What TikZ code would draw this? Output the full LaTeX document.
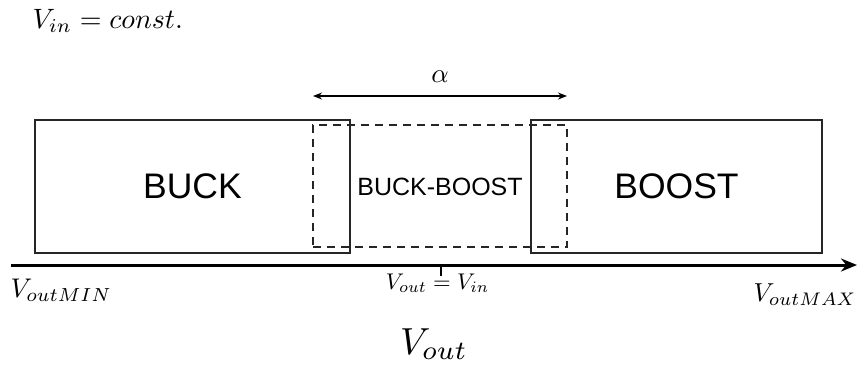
\documentclass[tikz,border=0pt]{standalone}
\usepackage{fontspec}
\newfontfamily\arialfont{Liberation Sans}
\usetikzlibrary{arrows.meta}
\tikzset{
  box/.style={draw=black!85, line width=2pt, inner sep=0pt, font=\arialfont\fontsize{35.5}{40}\selectfont},
  bbox/.style={draw=black!85, line width=2pt, dash pattern=on 8pt off 6pt, inner sep=0pt},
  lbl/.style={inner sep=0pt, anchor=center},
}
\begin{document}
\begin{tikzpicture}[x=1pt,y=-1pt]
\useasboundingbox (0,0) rectangle (858,368);
\node[box, minimum width=315pt, minimum height=133pt] (buck) at (192.5,186.5) {BUCK};
\node[box, minimum width=291pt, minimum height=133pt] (boost) at (676.5,186.5) {BOOST};
\node[bbox, minimum width=254pt, minimum height=122pt] (bb) at (440,186) {};
\node[lbl, font=\arialfont\fontsize{25}{30}\selectfont] (bbt) at (440,187) {BUCK-BOOST};
% alpha arrow
\coordinate (al) at (313,96);
\coordinate (ar) at (567,96);
\draw[line width=1.2pt, {Stealth[length=9pt,width=7pt]}-{Stealth[length=9pt,width=7pt]}] (al) -- (ar);
\node[lbl, scale=2.7] (alpha) at (440,77) {$\alpha$};
% axis
\coordinate (a0) at (11,265);
\coordinate (a1) at (857,265);
\draw[line width=3pt, -{Stealth[length=16pt,width=13pt]}] (a0) -- (a1);
\coordinate (t0) at (441,265);
\coordinate (t1) at (441,276);
\draw[line width=1.2pt] (t0) -- (t1);
\node[lbl, scale=2.27] (eq) at (437.5,283) {$V_{out} = V_{in}$};
\node[lbl, scale=2.7, anchor=west] (vmin) at (10,290) {$V_{outMIN}$};
\node[lbl, scale=2.6, anchor=east] (vmax) at (857,295) {$V_{outMAX}$};
\node[lbl, scale=3.77] (vout) at (434,344) {$V_{out}$};
\node[lbl, scale=2.8, anchor=west] (vin) at (32,21) {$V_{in} = const.$};
\end{tikzpicture}
\end{document}
